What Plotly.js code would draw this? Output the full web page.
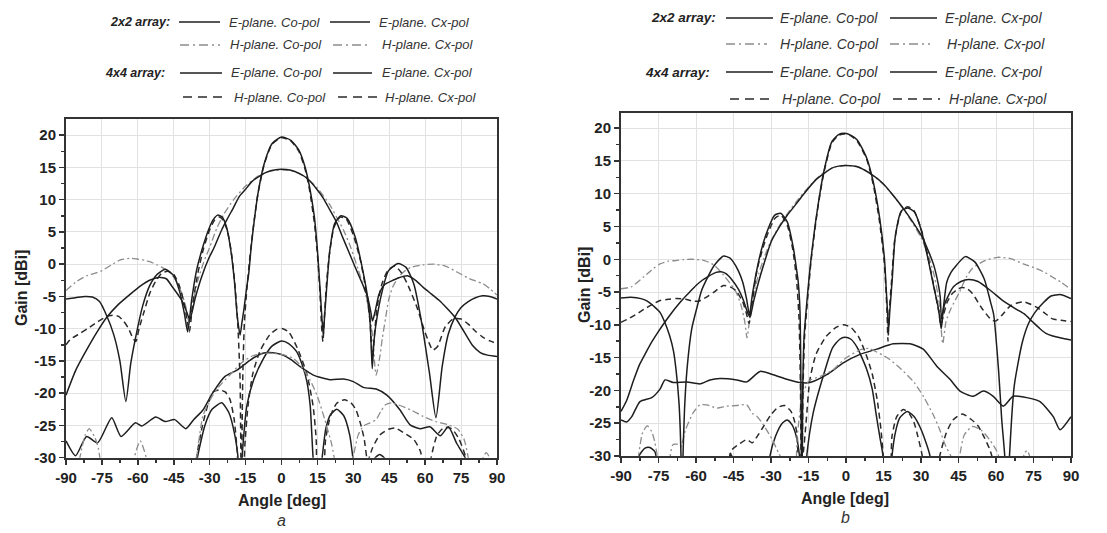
<!DOCTYPE html>
<html>
<head>
<meta charset="utf-8">
<script src="https://cdn.plot.ly/plotly-3.0.1.min.js"></script>
<style>html,body{margin:0;padding:0;background:#fff;}#chart{width:1107px;height:533px;}</style>
</head>
<body>
<div id="chart"></div>
<script>
// ---------------- DATA: panel a ----------------
const xTicks = [-90,-75,-60,-45,-30,-15,0,15,30,45,60,75,90];
const yTicks = [-30,-25,-20,-15,-10,-5,0,5,10,15,20];

// 2x2 E-plane Co-pol
const aE2coAng  = [-90,-86,-81.4,-77,-72.9,-68,-63,-59,-55.1,-51.2,-48,-46,-42,-40,-38.3,-36,-33.3,-30.5,-28,-25,-22.8,-20,-17.6,-15,-12.4,-9,-5.9,-3,0,3.5,7.2,11,15,17.5,20.2,23,25.4,28,30.7,33.5,35.9,37.2,38,39,40.8,43,46,49,52.6,56,59.2,62.5,65.8,69,72.4,75,77.6,80,83,86,90];
const aE2coGain = [-20.3,-16.5,-13.3,-10.5,-8.2,-6.2,-4.6,-3.4,-2.5,-2.05,-2.3,-3.3,-5.4,-7,-8.6,-5.2,-1.9,0.8,2.7,5.3,6.9,8.8,10.5,11.6,12.8,13.7,14.3,14.6,14.7,14.6,14.1,13.2,11.5,10.2,8.4,6.5,4.3,2,-0.4,-2.8,-5,-7.2,-8.8,-7.5,-4.6,-3.2,-2.6,-2.1,-1.8,-2.5,-3.6,-4.6,-5.6,-6.8,-8.2,-9.7,-11.3,-12.7,-13.7,-14.1,-14.3];
// 2x2 H-plane Co-pol
const aH2coAng  = [-90,-86,-81.4,-77,-74.9,-71,-67,-63,-60.4,-57,-55.1,-52,-49.9,-47,-44.5,-42,-40,-38.6,-37,-35,-32.5,-30,-27,-24,-20,-15,-10,-5,0,5,10,15,20,23,26,29,32,34.5,36.5,38,39.5,41,42.1,43.5,44.7,46.5,48.7,51,54,59.2,63.8,68.4,73.7,77.6,81,84,87,90];
const aH2coGain = [-4.1,-2.8,-1.8,-1.3,-1.0,-0.1,0.7,0.9,0.8,0.6,0.4,-0.1,-0.5,-1.2,-2.3,-4.2,-6.5,-9,-6,-2.6,0.3,2.6,5.6,7.8,10,12.1,13.6,14.4,14.6,14.4,13.5,11.8,9.3,7.3,5.2,2.5,-0.8,-3.8,-7,-11,-17.2,-14.5,-11.5,-8.3,-5.6,-3.5,-2.1,-1.2,-0.5,-0.1,0,-0.3,-1.3,-2.1,-2.6,-3.0,-3.8,-4.8];
// 4x4 E-plane Co-pol
const aE4coAng  = [-90,-86,-82,-79,-76,-73,-70,-67.5,-65,-63,-61,-58,-55,-52,-48.5,-45,-42.5,-40.5,-39.2,-37.5,-35.5,-33,-30.5,-28.5,-26.7,-24.8,-23,-21.3,-19.7,-18.5,-17.3,-16.5,-15.7,-14.5,-13.7,-12.7,-11.7,-9.8,-7.2,-3.9,0,3.9,7.2,9.8,11.7,13.7,15,16.3,17,17.5,18,19,20.2,22.2,24.8,27.4,30.7,33.3,35.9,37,37.5,37.9,38.5,39.5,42.1,44.7,48.7,52,55.3,58.6,61.8,64.5,67.1,69.7,72.4,75,78,81,84,87,90];
const aE4coGain = [-5.4,-5.2,-5.0,-5.1,-5.8,-8.0,-11.0,-15,-21.3,-15.5,-11.5,-6.5,-3.3,-1.6,-0.8,-1.8,-4.3,-7.8,-10.5,-5.5,-1,2.5,5.3,6.9,7.6,7.3,5.8,2.5,-2.5,-8,-11,-9,-7,-3.5,-1.5,2.5,5.8,11,15.6,18.7,19.7,19.2,17.7,15.1,12,7.4,2.2,-5,-9,-11,-8,-3,2.2,6.3,7.5,7.1,4.3,0.2,-5,-9,-13,-16.2,-12.5,-9.2,-4.1,-1.0,0.1,-0.5,-3.1,-9.2,-16.9,-23.8,-15.9,-10.8,-8.2,-6.7,-5.8,-5.2,-4.9,-5,-5.4];
// 4x4 H-plane Co-pol
const aH4coAng  = [-90,-88.3,-84,-81,-77,-73,-70,-68,-66,-64,-62,-60.8,-59.5,-57.5,-55,-52.5,-50,-47.5,-45,-43,-41,-39.5,-38.5,-37,-35,-32.5,-30,-28,-26,-24.3,-22.5,-21,-19.5,-18.3,-17.3,-16.8,-16.2,-15.5,-14.5,-13.5,-12.5,-11.5,-9.8,-7.2,-3.9,0,3.9,7.2,9.8,11.7,13.7,15,16,16.8,17.3,17.8,18.8,20,22,24.5,27,30,33,35.5,37,38,38.8,40,42,44.5,47.4,50,52.6,56.6,59.9,63.2,65.1,68.4,71.7,75,78,81,84,87,90];
const aH4coGain = [-12.5,-11.7,-10.7,-10,-9,-8.1,-7.9,-8.1,-8.8,-9.9,-11.5,-12,-10,-7.5,-4.5,-2.6,-1.4,-1.1,-1.6,-3,-5.5,-8.5,-10.5,-6,-1.5,2.5,5.3,6.8,7.3,6.8,5,2,-3,-9,-18,-36,-18,-9,-4,0,3.5,6.5,11,15.5,18.6,19.6,19.1,17.5,14.8,11.5,6.5,1.5,-4,-10,-12,-9,-3,1.5,5.8,7.3,7,4.5,0.5,-4.5,-9,-15,-11,-6.5,-3,-0.9,-0.3,-1.3,-3.1,-6.7,-10.5,-13.3,-12.8,-9.7,-8.5,-8.5,-9.3,-10.4,-11.3,-11.9,-12.3];
// 2x2 E-plane Cx-pol
const aE2cxAng  = [-90,-86,-81.4,-76.8,-70.9,-67,-61,-58.4,-52.5,-48.6,-44.6,-40,-36.7,-32.8,-28.8,-23.6,-18.4,-13.2,-7.8,-4.8,0,4,7.8,13.3,20.3,25.9,30,34.2,39.8,44,49.5,53.7,57.9,62,66.3,69.7,73.2,76.7,80];
const aE2cxGain = [-27.4,-29.7,-26.7,-27.7,-23.8,-26.7,-24.6,-25.1,-23.7,-24.4,-24.1,-25.5,-24.1,-22.6,-20,-17.4,-16.4,-14.9,-13.8,-13.7,-14,-14.8,-15.9,-17.2,-17.9,-17.8,-18.2,-19.1,-19.4,-20.3,-22.6,-24.9,-25.5,-25.2,-26.6,-25.2,-27.8,-30,-34];
// 4x4 E-plane Cx-pol
const aE4cxAng  = [-37,-35.4,-32,-29,-25,-22,-19.5,-18,-17.3,-16.6,-14.5,-11.7,-7.5,-4,0,3,6.4,9,10.6,12,13.3,15,16.8,18.5,20.5,23.1,26,28.5,30,32,37,38.5,41,43.5,45];
const aE4cxGain = [-35,-30.5,-25,-22.5,-21.5,-23,-26.5,-30.5,-35,-30.5,-22,-18,-14.6,-12.7,-11.9,-12.3,-13.6,-16,-18.2,-22,-30.5,-35,-30.5,-25.5,-23.3,-22.5,-23.5,-26.5,-30.5,-35,-35,-30.3,-29.5,-30.3,-35];
// 4x4 H-plane Cx-pol
const aH4cxAng  = [-37,-35.5,-33,-30.5,-28.5,-26,-23.5,-21.5,-19.8,-18.5,-17.8,-16.5,-15.3,-14,-12,-9,-5,-2,0.5,3,6.6,10.5,13.2,14.5,15.3,17,18.4,20.5,23,26.3,29,31,32.9,34.5,36,38,41,44.7,47.4,51.3,55.3,58,59.5,61,62.5,65,68,71,74,77,79];
const aH4cxGain = [-35,-30,-25,-21.5,-19.8,-19.5,-19.8,-21,-24,-29,-35,-35,-28,-22,-17,-13.5,-11,-10.1,-10,-10.5,-13,-16.9,-22,-27.2,-35,-35,-27.2,-23.5,-21.6,-21,-21.5,-22.5,-24.6,-27,-30.5,-28.5,-26.5,-25.6,-25.4,-26.2,-27.2,-29,-32,-35,-30,-26.5,-25.3,-25.5,-27,-30,-35];
// 2x2 H-plane Cx-pol
const aH2cxAng  = [-86,-84.2,-82,-80.3,-78,-76.5,-75.5,-74,-63,-61.5,-59,-56.5,-55,-38,-35.5,-32.8,-29,-26.2,-21.6,-17,-12,-6,0,5,9,12,15,18,21,22.5,25,28,30.3,32,34.2,37,39.5,41.5,43.4,46,48.7,54,59.2,64.5,69.7,73.7,76.3,78,80,83,85.5,87.5,89];
const aH2cxGain = [-35,-30,-26.5,-25.5,-26.8,-28.5,-31,-35,-35,-30,-27.4,-30,-35,-35,-30,-23.5,-20.5,-19,-17.2,-15.4,-14.2,-13.8,-14,-14.6,-16.2,-18,-20.5,-24,-28,-31,-35,-32,-29.2,-26.5,-25.1,-24.6,-24.1,-22.8,-21.8,-21.5,-21.8,-22.6,-23.6,-24.4,-24.9,-25.6,-27.2,-30,-35,-31,-29.2,-30.5,-35];

// ---------------- DATA: panel b ----------------
const bE2coAng  = [-90,-87.7,-85,-82.5,-80,-77.5,-75,-72.5,-70,-67.5,-65,-62.5,-60,-57.5,-55,-52,-50,-48,-45.5,-43,-41,-39.2,-38.4,-37,-35,-32.5,-29.9,-26.5,-23.5,-20,-17.2,-12.1,-8,-5.7,-3,0,4.5,9.6,14.7,19.8,24.9,30,33,35.1,37,37.7,38.2,39.3,41,43,46,49,52.8,57.9,63,68,71.2,74.5,77.6,80,82.7,86,90];
const bE2coGain = [-23.2,-21.5,-18.5,-16,-14.2,-12.5,-11,-9.6,-8.3,-7.1,-6,-5,-4,-3.2,-2.6,-2,-1.9,-2.2,-3.2,-4.6,-6.3,-8.3,-8.8,-6.5,-3.5,-0.3,2.7,5,6.7,8.4,9.8,12.1,13.3,13.9,14.2,14.3,14.1,13.1,11.6,9.3,6.7,3.7,1.2,-0.9,-4,-5.8,-9.1,-7,-5.5,-4.2,-3.4,-3.1,-3.4,-4.8,-6.4,-7.6,-8.3,-9.5,-10.6,-11.3,-11.7,-12,-12.3];
const bH2coAng  = [-90,-85.8,-80.7,-77,-74.4,-71,-68,-65,-61.7,-56.6,-52.8,-49,-46.5,-44,-42,-40.5,-39.6,-38.5,-37,-35,-32.5,-30,-26,-23,-20,-15,-10,-5,0,5,10,15,20,25,30,33,35.5,37.2,38.7,40,42,45.4,48,50.5,55.6,60.7,65.8,70.9,76,79.5,82.5,86,90];
const bH2coGain = [-4.5,-4.2,-2.6,-1.4,-0.7,-0.3,-0.2,-0.05,0,-0.2,-0.9,-2.4,-3.6,-5,-7,-9.5,-12,-9,-5.5,-2.3,0.5,2.8,5.5,7.2,8.7,11,12.9,14,14.3,14.1,13,11.4,9.2,6.5,3.3,0.5,-2.8,-6.5,-12.9,-9.5,-7.5,-5,-2.8,-1.4,-0.2,0.3,0.1,-0.7,-1.4,-2,-2.7,-3.5,-4.6];
const bE4coAng  = [-90,-86,-82,-79.5,-76.5,-74.4,-72.5,-70.6,-69,-68,-66.8,-66,-65.7,-65.2,-64.6,-63.6,-61.7,-59.5,-57.8,-55,-52.8,-49,-46.5,-45.1,-43,-41.3,-39.8,-38.6,-37.5,-35,-33,-31.1,-28.6,-26.1,-23.5,-21,-19.8,-19.1,-18.4,-18,-17.7,-17.3,-16.8,-15.9,-14,-11.4,-8.9,-5.7,-3,-0.6,2,4.5,8.3,10.9,13.5,15.4,16,16.6,17,17.5,18.5,19.7,22.2,24.8,27.4,29.9,32.5,35,37,38.1,38.8,40.3,42,44.2,47.7,51.5,55.3,57.8,59.1,61,62.3,63.5,64.4,65.4,67.3,70.5,73,75.6,79,82,86,90];
const bE4coGain = [-5.9,-5.8,-6.0,-6.4,-7.3,-8.1,-9.6,-11.6,-14,-16.8,-21.9,-30,-40,-30,-23,-16.8,-10.6,-7.2,-4.8,-2.5,-1,0.5,0.2,-0.4,-1.8,-3.5,-6,-8.5,-5.5,-0.4,2.6,4.7,6.7,7,5.7,1.6,-1.5,-3.5,-8,-20,-40,-20,-12,-7.6,0,7.7,13.3,17.9,19,19.2,18.9,18.2,15.4,11.8,6.2,0,-4,-8,-11,-8,-3,3.4,7.4,7.8,7.2,4.7,0.6,-4,-7.6,-10.6,-8,-3.5,-2,-0.9,0.4,-0.4,-3,-6.5,-8.5,-16.8,-24.5,-30,-40,-30,-19.3,-12.7,-9.8,-8.1,-6.6,-5.6,-5.4,-6];
const bH4coAng  = [-90,-87.1,-84,-80.7,-77,-74.4,-71,-68,-64.2,-61,-59,-57.8,-55,-52.8,-49,-46.4,-44,-41.3,-39.8,-38.8,-37.5,-35.5,-33,-31,-28.3,-26,-23.5,-21.3,-19.8,-18.8,-18.2,-17.8,-17.2,-16.6,-15.7,-13.9,-11.4,-8.9,-5.7,-3,-0.6,2,4.5,8.3,10.9,13.3,15.2,15.9,16.4,16.8,17.3,18.3,19.5,22,24.5,27,29.9,32.5,35,37,38,39,40.5,42.6,44.5,46.5,48.5,50.5,54.4,58.3,60,62.2,66.1,71.2,76.2,79.5,82.6,86,90];
const bH4coGain = [-9.6,-9.1,-8.4,-7.6,-6.8,-6.3,-6.1,-6,-6.1,-6.4,-6.4,-6.2,-5.6,-5,-4,-4.2,-4.8,-6.5,-8.3,-9.8,-6.5,-1.5,2,4.2,6.3,6.7,5.2,1.5,-3,-9,-20,-40,-20,-12,-7.6,0,7.5,13.1,17.7,18.9,19.1,18.8,18,15.2,11.4,6,0,-4,-8,-12.5,-8,-3,3,7.2,8,7.5,4.8,0.8,-3.8,-7.8,-10,-8.5,-6.5,-5.2,-4.6,-4.3,-4.5,-5.2,-7.5,-9.3,-9.4,-8.6,-7,-6.5,-7.3,-8.2,-9.1,-9.3,-9.5];
const bE2cxAng  = [-90,-87.7,-85.7,-82.4,-77.7,-74.4,-72.4,-69.1,-63.7,-58.4,-54.4,-50.4,-43.7,-39.7,-34.4,-29.1,-23.7,-18.4,-14.4,-7.7,-1.1,5.6,12.3,18.9,25.6,30.9,36.3,41.6,45.6,50.9,54.9,58.9,62.9,66.9,72.3,77.6,82.9,85.6,90];
const bE2cxGain = [-24.5,-24.8,-24,-21.7,-21.1,-19.8,-18.4,-18.8,-18.7,-19,-18.4,-18.2,-18.4,-18.7,-17.1,-17.6,-18.3,-18.8,-18.8,-17.6,-15.8,-14.5,-13.7,-12.9,-12.9,-13.7,-16.3,-18.3,-20.1,-20.9,-20.1,-20.9,-22.4,-20.9,-21.1,-21.7,-24,-26,-24];
const bE4cxAng  = [-84,-82.8,-80.4,-78.5,-76.5,-75.5,-74,-47.5,-46.4,-45.2,-44,-31.5,-30.4,-28.2,-25.5,-23.5,-21.5,-19.9,-18.6,-18,-16.5,-15.7,-13.1,-9.1,-5.4,-2.5,-0.5,2,4.4,8.3,10.5,12,13.5,14.8,15.5,17.5,18.4,19.7,21.5,24.5,27.3,29.5,31.1,33.6,34.5];
const bE4cxGain = [-35,-30,-28.8,-28.7,-29.3,-31,-35,-35,-29.6,-30.5,-35,-35,-30,-27,-25,-24.5,-25.3,-27,-30,-35,-35,-30,-23.4,-17.8,-13.5,-12.2,-11.9,-12.2,-13.4,-16.8,-19.8,-23.5,-27,-30,-35,-35,-30,-26.5,-24.2,-23.2,-24,-25.5,-27,-30,-35];
const bH4cxAng  = [-48,-45.7,-42.4,-39.7,-37.5,-35.5,-33,-30,-27.3,-24.5,-22,-20.5,-19.5,-18.9,-17.3,-16,-14.5,-12,-8,-4,-1,2,5,8,10.5,12.5,14,14.9,15.8,17.3,18.4,20.3,22.9,25.4,27.3,28.6,30.5,31.5,35.5,37.5,40.1,42.8,46.5,50,52.8,55.1,57.6,59,60];
const bH4cxGain = [-35,-29.1,-28.1,-27.5,-28,-27,-25.5,-23.7,-22.6,-22.3,-23.2,-24.8,-27,-32,-30,-25,-18.5,-14.5,-11.8,-10.4,-10,-10.4,-11.8,-14.5,-17.5,-21.5,-26,-30,-35,-35,-27,-24,-22.9,-23.6,-25,-26.8,-30,-35,-35,-30,-26.5,-24.5,-23.6,-24.4,-25.4,-27,-29.1,-31,-35];
const bH2cxAng  = [-84.5,-83,-81.4,-79.5,-77.7,-76.4,-75.3,-74,-71.5,-70.5,-69.3,-67.5,-66.1,-64.2,-61.1,-58.4,-55.7,-51.6,-47.7,-43.7,-39.7,-37.5,-35.5,-33.1,-29.5,-27,-25.1,-24,-21,-19.5,-17.5,-15,-10,-5,-0.6,5.7,9,12.1,17.2,22.2,27.3,31.1,35,37.5,40,41.9,43,44.5,45.5,47.3,50.5,54.2,57.8,60.4,61.8,63,70,71.3,72.5,73.8,75];
const bH2cxGain = [-35,-30,-26.5,-25.4,-26.3,-28,-30.5,-35,-35,-30.5,-28.3,-28.2,-28.6,-26,-23.4,-22.2,-22.2,-22.7,-22.4,-22.3,-22.2,-23.5,-24,-25.2,-27.5,-29.5,-31,-35,-35,-27,-21,-18.6,-17.8,-16.8,-15.2,-13.8,-13.6,-14.1,-15.2,-16.8,-18.8,-21,-23.8,-26,-28.6,-30,-35,-35,-30,-26.8,-25.5,-26.1,-27.7,-29.3,-31,-35,-35,-29.6,-29.2,-30.5,-35];

// ---------------- STYLES ----------------
const W = 1107, H = 533;
const SOLID = {color:'#1e1e1e', width:1.5, dash:'solid'};
const DASH  = {color:'#2a2a2a', width:1.5, dash:'6px,4px'};
const DDOT  = {color:'#8c8c8c', width:1.3, dash:'7px,3px,2px,3px'};
const LEG_DASH = {color:'#2a2a2a', width:1.5, dash:'9px,6px'};
const LEG_DDOT = {color:'#8c8c8c', width:1.3, dash:'9px,4px,2px,4px'};

function tr(xs, ys, line, ax){
  return {x:xs, y:ys, type:'scatter', mode:'lines', xaxis:ax[0], yaxis:ax[1],
          line:Object.assign({shape:'spline', smoothing:0.6}, line), hoverinfo:'skip'};
}
const A = ['x','y'], B = ['x2','y2'];
const traces = [
  tr(aE2cxAng,aE2cxGain,SOLID,A), tr(aE4cxAng,aE4cxGain,SOLID,A),
  tr(aH4cxAng,aH4cxGain,DASH,A),  tr(aH2cxAng,aH2cxGain,DDOT,A),
  tr(aH2coAng,aH2coGain,DDOT,A),  tr(aH4coAng,aH4coGain,DASH,A),
  tr(aE2coAng,aE2coGain,SOLID,A), tr(aE4coAng,aE4coGain,SOLID,A),
  tr(bE2cxAng,bE2cxGain,SOLID,B), tr(bE4cxAng,bE4cxGain,SOLID,B),
  tr(bH4cxAng,bH4cxGain,DASH,B),  tr(bH2cxAng,bH2cxGain,DDOT,B),
  tr(bH2coAng,bH2coGain,DDOT,B),  tr(bH4coAng,bH4coGain,DASH,B),
  tr(bE2coAng,bE2coGain,SOLID,B), tr(bE4coAng,bE4coGain,SOLID,B)
];

const tickFont = {family:'Liberation Sans, Arial, sans-serif', size:15, weight:'bold', color:'#222'};
function xax(domain, anchor){
  return {domain:domain, anchor:anchor, range:[-90,90], tickvals:xTicks, ticktext:xTicks.map(String),
    ticks:'outside', ticklen:5, tickwidth:1.5, tickcolor:'#333', showline:true, linecolor:'#333', linewidth:2, mirror:true,
    showgrid:true, gridcolor:'#e2e2e2', gridwidth:1, zeroline:false, tickfont:tickFont,
    minor:{tickvals:[-82.5,-67.5,-52.5,-37.5,-22.5,-7.5,7.5,22.5,37.5,52.5,67.5,82.5], ticks:'outside', ticklen:3, tickcolor:'#333', showgrid:false}};
}
function yax(domain, anchor, top){
  return {domain:domain, anchor:anchor, range:[-30,top], tickvals:yTicks, ticktext:yTicks.map(String),
    ticks:'outside', ticklen:5, tickwidth:1.5, tickcolor:'#333', showline:true, linecolor:'#333', linewidth:2, mirror:true,
    showgrid:true, gridcolor:'#e2e2e2', gridwidth:1, zeroline:false, tickfont:tickFont,
    minor:{tickvals:[-27.5,-22.5,-17.5,-12.5,-7.5,-2.5,2.5,7.5,12.5,17.5], ticks:'outside', ticklen:3, tickcolor:'#333', showgrid:false}};
}

const annotations = [];
const shapes = [];
function txt(text, px, py, opt){
  annotations.push(Object.assign({text:text, xref:'paper', yref:'paper', x:px/W, y:1-py/H,
    showarrow:false, xanchor:'left', yanchor:'middle',
    font:{family:'Liberation Sans, Arial, sans-serif', size:13, color:'#333', style:'italic'}}, opt||{}));
}
function seg(x0, x1, py, line){
  shapes.push({type:'line', xref:'paper', yref:'paper', x0:x0/W, x1:x1/W, y0:1-py/H, y1:1-py/H, line:line});
}

// legend labels
const legSeries = ['E-plane. Co-pol','E-plane. Cx-pol','H-plane. Co-pol','H-plane. Cx-pol'];
const legGroups = ['2x2 array:','4x4 array:'];
function legend(cfg){
  const fs = cfg.fs;
  cfg.rows.forEach(function(r, i){
    const grp = Math.floor(i/2), isH = i%2===1;
    if(!isH){ txt('<b>'+legGroups[grp]+'</b>', r.lab, r.y, {xanchor:'right', font:{family:'Liberation Sans, Arial, sans-serif', size:fs-0.5, color:'#222', style:'italic', weight:'bold'}}); }
    const st = isH ? (grp===0 ? LEG_DDOT : LEG_DASH) : SOLID;
    const ln = {color:st.color, width:st.width, dash:st.dash};
    seg(r.l1[0], r.l1[1], r.y, ln);
    seg(r.l2[0], r.l2[1], r.y, ln);
    txt(legSeries[isH?2:0], r.t1, r.y, {font:{family:'Liberation Sans, Arial, sans-serif', size:fs, color:'#333', style:'italic'}});
    txt(legSeries[isH?3:1], r.t2, r.y, {font:{family:'Liberation Sans, Arial, sans-serif', size:fs, color:'#333', style:'italic'}});
  });
}
legend({fs:13, rows:[
  {y:22, lab:172, l1:[179,220], t1:227, l2:[330,370], t2:377},
  {y:45, lab:172, l1:[180,220], t1:228, l2:[333,370], t2:380},
  {y:73, lab:167, l1:[180,222], t1:229, l2:[333,372], t2:380},
  {y:97, lab:167, l1:[183,223], t1:232, l2:[338,378], t2:383}
]});
legend({fs:14, rows:[
  {y:18, lab:718, l1:[726,773], t1:778, l2:[890,937], t2:943},
  {y:44, lab:718, l1:[726,767], t1:778, l2:[890,930], t2:945},
  {y:72, lab:712, l1:[726,773], t1:778, l2:[890,937], t2:943},
  {y:99, lab:712, l1:[730,773], t1:780, l2:[893,940], t2:947}
]});

const titleFont = {family:'Liberation Sans, Arial, sans-serif', size:16, weight:'bold', color:'#222'};
txt('Gain [dBi]', 21, 288, {xanchor:'center', textangle:-90, font:titleFont});
txt('Gain [dBi]', 584, 285, {xanchor:'center', textangle:-90, font:titleFont});
txt('Angle [deg]', 282, 500, {xanchor:'center', font:titleFont});
txt('Angle [deg]', 845, 498, {xanchor:'center', font:titleFont});
txt('a', 281, 520, {xanchor:'center', font:{family:'Liberation Sans, Arial, sans-serif', size:16, color:'#333', style:'italic'}});
txt('b', 845, 517, {xanchor:'center', font:{family:'Liberation Sans, Arial, sans-serif', size:16, color:'#333', style:'italic'}});

const layout = {
  width:W, height:H, margin:{l:0,r:0,t:0,b:0}, showlegend:false,
  paper_bgcolor:'#ffffff', plot_bgcolor:'#ffffff',
  xaxis: xax([66/W, 497/W], 'y'),
  yaxis: yax([1-457.7/H, 1-119/H], 'x', 22.5),
  xaxis2: xax([621/W, 1071/W], 'y2'),
  yaxis2: yax([1-456/H, 1-113/H], 'x2', 22.3),
  annotations: annotations, shapes: shapes
};
Plotly.newPlot('chart', traces, layout, {displayModeBar:false, staticPlot:true});
</script>
</body>
</html>
